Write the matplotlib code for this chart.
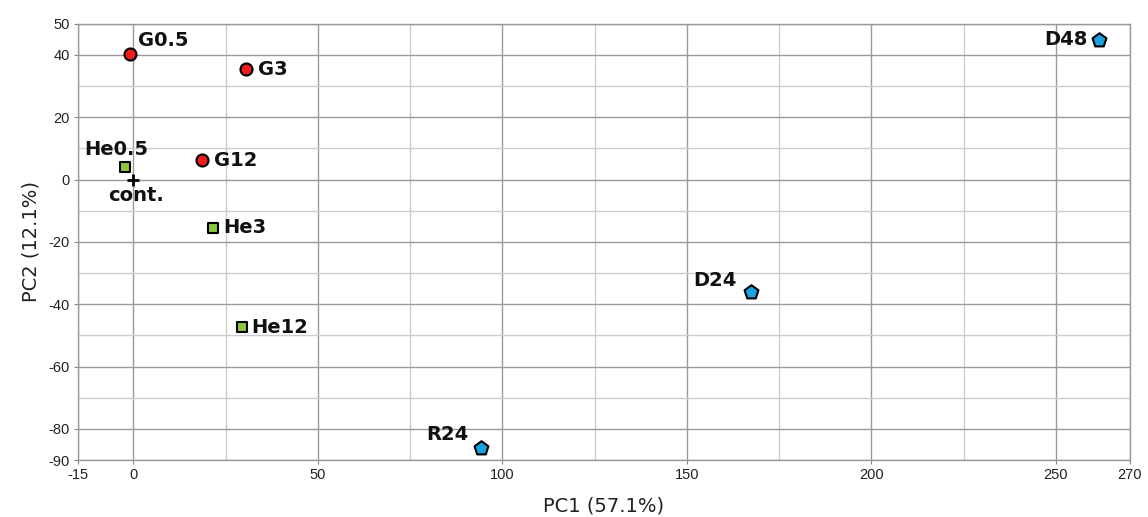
import numpy as np
import matplotlib.pyplot as plt

# PCA scores
g_names = ['G0.5', 'G3', 'G12']
g_pc1 = [-1.0, 30.4, 18.5]
g_pc2 = [40.2, 35.4, 6.2]

he_names = ['He0.5', 'He3', 'He12']
he_pc1 = [-2.4, 21.6, 29.3]
he_pc2 = [4.0, -15.4, -47.3]

d_names = ['R24', 'D24', 'D48']
d_pc1 = [94.2, 167.3, 261.8]
d_pc2 = [-86.0, -36.1, 44.9]

cont_name = 'cont.'
cont_pc1 = [0.0]
cont_pc2 = [0.0]

x_major = [-15, 0, 50, 100, 150, 200, 250, 270]
x_minor = [25, 75, 125, 175, 225]
y_major = [-90, -80, -60, -40, -20, 0, 20, 40, 50]
y_minor = [-70, -50, -30, -10, 10, 30]

# label offsets in pixels (dx, dy, ha, va)
label_pos = {
    'G0.5': (8, 4, 'left', 'bottom'),
    'G3': (12, 0, 'left', 'center'),
    'G12': (12, 0, 'left', 'center'),
    'He0.5': (-8, 8, 'center', 'bottom'),
    'He3': (10, 0, 'left', 'center'),
    'He12': (10, 0, 'left', 'center'),
    'R24': (-12, 4, 'right', 'bottom'),
    'D24': (-14, 2, 'right', 'bottom'),
    'D48': (-12, 0, 'right', 'center'),
    'cont.': (3, -6, 'center', 'top'),
}


def main():
    plt.rcParams['axes.unicode_minus'] = False
    fig = plt.figure(figsize=(11.48, 5.17), dpi=100)
    ax = fig.add_axes([0.068, 0.110, 0.916, 0.844])

    ax.set_xlim(-15, 270)
    ax.set_ylim(-90, 50)

    ax.set_xticks(x_major)
    ax.set_xticks(x_minor, minor=True)
    ax.set_yticks(y_major)
    ax.set_yticks(y_minor, minor=True)
    ax.grid(which='major', color='#9a9a9a', linewidth=1.0)
    ax.grid(which='minor', color='#cdcdcd', linewidth=1.0)
    ax.set_axisbelow(True)
    ax.tick_params(which='minor', length=0)
    ax.tick_params(which='major', length=3, width=0.8, color='#888888',
                   labelsize=10.5, labelcolor='#222222', pad=3)
    for lab in ax.get_xticklabels() + ax.get_yticklabels():
        lab.set_family('Liberation Sans')
    for sp in ax.spines.values():
        sp.set_color('#9a9a9a')
        sp.set_linewidth(1.0)

    ax.scatter(g_pc1, g_pc2, s=75, marker='o', facecolor='#ee1c1c',
               edgecolor='black', linewidth=1.5, zorder=3)
    ax.scatter(he_pc1, he_pc2, s=55, marker='s', facecolor='#8dc63f',
               edgecolor='black', linewidth=1.5, zorder=3)
    ax.scatter(d_pc1, d_pc2, s=110, marker='p', facecolor='#1aa3e0',
               edgecolor='black', linewidth=1.5, zorder=3)
    ax.scatter(cont_pc1, cont_pc2, s=70, marker='+', color='black',
               linewidth=2, zorder=3)

    names = g_names + he_names + d_names + [cont_name]
    xs = g_pc1 + he_pc1 + d_pc1 + cont_pc1
    ys = g_pc2 + he_pc2 + d_pc2 + cont_pc2
    for name, x, y in zip(names, xs, ys):
        dx, dy, ha, va = label_pos[name]
        ax.annotate(name, (x, y), xytext=(dx, dy), textcoords='offset pixels',
                    ha=ha, va=va, fontsize=14, fontweight='bold',
                    family='DejaVu Sans', color='#111111', zorder=4)

    ax.set_xlabel('PC1 (57.1%)', fontsize=14, family='DejaVu Sans',
                  color='#222222', labelpad=10)
    ax.set_ylabel('PC2 (12.1%)', fontsize=14, family='DejaVu Sans',
                  color='#222222', labelpad=6)

    fig.savefig('out.png', dpi=100)


if __name__ == '__main__':
    main()
